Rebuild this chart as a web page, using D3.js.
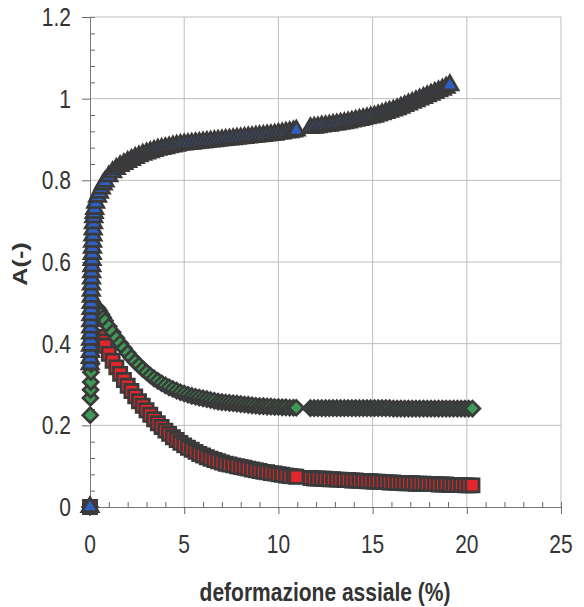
<!DOCTYPE html>
<html>
<head>
<meta charset="utf-8">
<script src="https://cdn.jsdelivr.net/npm/d3@7"></script>
<style>
  html, body { margin: 0; padding: 0; background: #fff; }
  svg { display: block; }
  text { font-family: "Liberation Sans", Arial, sans-serif; fill: #333; }
</style>
</head>
<body>
<svg id="chart" width="584" height="607"></svg>
<script>
// ---- data ----
// axial strain (%): initial near-vertical column, first branch, second branch (after the gap)
const strainC = [0, 0.01, 0.015, 0.02, 0.025, 0.03, 0.035, 0.04, 0.045, 0.05, 0.055, 0.06, 0.065, 0.07,
  0.075, 0.08, 0.09, 0.1, 0.11, 0.12, 0.13, 0.14, 0.155, 0.17, 0.185, 0.2, 0.225, 0.25];
const strainA = [0.3, 0.4, 0.5, 0.6, 0.7, 0.8, 1.0, 1.2, 1.4, 1.6, 1.8, 2.0, 2.2, 2.4, 2.6, 2.8, 3.0, 3.2,
  3.4, 3.6, 3.8, 4.0, 4.2, 4.4, 4.6, 4.8, 5.0, 5.2, 5.4, 5.6, 5.8, 6.0, 6.2, 6.4, 6.6, 6.8, 7.0, 7.2, 7.4,
  7.6, 7.8, 8.0, 8.2, 8.4, 8.6, 8.8, 9.0, 9.2, 9.4, 9.6, 9.8, 10.0, 10.2, 10.4, 10.6, 10.8, 10.95];
const strainB = [11.7, 11.9, 12.1, 12.3, 12.5, 12.7, 12.9, 13.1, 13.3, 13.5, 13.7, 13.9, 14.1, 14.3, 14.5,
  14.7, 14.9, 15.1, 15.3, 15.5, 15.7, 15.9, 16.1, 16.3, 16.5, 16.7, 16.9, 17.1, 17.3, 17.5, 17.7, 17.9,
  18.1, 18.3, 18.5, 18.7, 18.9, 19.1, 19.3, 19.5, 19.7, 19.9, 20.1, 20.3];

// blue triangles
const blueC = [0, 0.35, 0.365, 0.38, 0.395, 0.41, 0.425, 0.44, 0.455, 0.47, 0.485, 0.50, 0.515, 0.53,
  0.545, 0.56, 0.575, 0.59, 0.605, 0.62, 0.635, 0.65, 0.665, 0.68, 0.695, 0.71, 0.72, 0.73];
const blueA = [0.745, 0.76, 0.77, 0.78, 0.79, 0.797, 0.81, 0.82, 0.828, 0.835, 0.84, 0.845, 0.85, 0.855,
  0.859, 0.863, 0.866, 0.869, 0.872, 0.875, 0.877, 0.879, 0.881, 0.883, 0.885, 0.887, 0.888, 0.889, 0.890,
  0.891, 0.892, 0.893, 0.894, 0.895, 0.896, 0.897, 0.898, 0.899, 0.900, 0.901, 0.902, 0.903, 0.904, 0.905,
  0.906, 0.907, 0.908, 0.909, 0.910, 0.911, 0.912, 0.914, 0.915, 0.917, 0.918, 0.920, 0.922];
const blueB = [0.928, 0.929, 0.930, 0.932, 0.933, 0.934, 0.936, 0.937, 0.939, 0.940, 0.942, 0.944, 0.946,
  0.948, 0.950, 0.952, 0.954, 0.956, 0.959, 0.962, 0.965, 0.968, 0.971, 0.974, 0.978, 0.982, 0.986, 0.990,
  0.994, 0.998, 1.002, 1.006, 1.010, 1.014, 1.018, 1.022, 1.027, 1.033, null, null, null, null, null, null];

// green diamonds
const greenC = [0, 0.225, null, 0.267, null, 0.287, null, 0.306, null, 0.33, null, 0.35, null, 0.37,
  null, 0.39, null, 0.41, null, 0.43, null, 0.45, null, 0.465, null, 0.478, 0.482, 0.486];
const greenA = [0.49, 0.487, 0.48, 0.472, 0.464, 0.456, 0.442, 0.428, 0.414, 0.401, 0.389, 0.377, 0.366,
  0.356, 0.347, 0.338, 0.330, 0.322, 0.315, 0.309, 0.303, 0.298, 0.293, 0.289, 0.285, 0.281, 0.278, 0.275,
  0.272, 0.270, 0.268, 0.266, 0.264, 0.262, 0.260, 0.258, 0.257, 0.256, 0.255, 0.254, 0.253, 0.252, 0.251,
  0.250, 0.249, 0.248, 0.247, 0.247, 0.246, 0.246, 0.245, 0.245, 0.244, 0.244, 0.243, 0.243, 0.243];
const greenB = [0.242, 0.242, 0.242, 0.242, 0.242, 0.242, 0.242, 0.242, 0.242, 0.242, 0.242, 0.242, 0.242,
  0.242, 0.242, 0.242, 0.242, 0.242, 0.242, 0.242, 0.242, 0.242, 0.241, 0.241, 0.241, 0.241, 0.241, 0.241,
  0.241, 0.241, 0.241, 0.241, 0.241, 0.241, 0.241, 0.241, 0.241, 0.241, 0.241, 0.241, 0.241, 0.241, 0.241, 0.241];

// red squares
const redC = [0, null, null, null, null, null, null, null, null, null, null, null, null, null,
  null, null, null, null, null, null, null, null, null, null, null, null, null, null];
const redA = [null, null, null, 0.417, 0.405, 0.395, 0.375, 0.358, 0.342, 0.326, 0.311, 0.297, 0.284,
  0.271, 0.259, 0.248, 0.237, 0.226, 0.215, 0.205, 0.196, 0.187, 0.179, 0.171, 0.164, 0.157, 0.151, 0.145,
  0.140, 0.135, 0.130, 0.126, 0.122, 0.118, 0.115, 0.112, 0.109, 0.106, 0.104, 0.102, 0.100, 0.098, 0.096,
  0.094, 0.092, 0.090, 0.088, 0.086, 0.085, 0.083, 0.082, 0.080, 0.079, 0.077, 0.076, 0.075, 0.074];
const redB = [0.071, 0.070, 0.070, 0.069, 0.069, 0.068, 0.068, 0.067, 0.067, 0.066, 0.066, 0.065, 0.065,
  0.064, 0.064, 0.063, 0.063, 0.062, 0.062, 0.061, 0.061, 0.060, 0.060, 0.059, 0.059, 0.058, 0.058, 0.058,
  0.057, 0.057, 0.057, 0.056, 0.056, 0.056, 0.055, 0.055, 0.055, 0.054, 0.054, 0.054, 0.054, 0.053, 0.053, 0.053];

const xTickValues = [0, 5, 10, 15, 20, 25];
const xTickLabels = ["0", "5", "10", "15", "20", "25"];
const yTickValues = [0, 0.2, 0.4, 0.6, 0.8, 1.0, 1.2];
const yTickLabels = ["0", "0.2", "0.4", "0.6", "0.8", "1", "1.2"];
const xTitle = "deformazione assiale (%)";
const yTitle = "A(-)";

// ---- drawing ----
const svg = d3.select("#chart");
const x = d3.scaleLinear().domain([0, 25]).range([90, 561]);
const y = d3.scaleLinear().domain([0, 1.2]).range([507, 17]);

// grid
const grid = svg.append("g");
grid.selectAll("line.gx").data(xTickValues.slice(1)).join("line")
  .attr("x1", d => x(d)).attr("x2", d => x(d)).attr("y1", y(0)).attr("y2", y(1.2))
  .attr("stroke", "#bdbdbd").attr("stroke-width", 1);
grid.selectAll("line.gy").data(yTickValues.slice(1)).join("line")
  .attr("y1", d => y(d)).attr("y2", d => y(d)).attr("x1", x(0)).attr("x2", x(25))
  .attr("stroke", "#bdbdbd").attr("stroke-width", 1);

// axes (lines + ticks; labels drawn separately)
const xMinor = d3.range(0, 26, 1).filter(v => v % 5 !== 0);
const yMinor = d3.range(0, 31, 1).map(v => v * 0.04).filter((v, i) => i % 5 !== 0);

const xAxisMinor = svg.append("g").attr("transform", `translate(0,${y(0)})`)
  .call(d3.axisTop(x).tickValues(xMinor).tickSize(5).tickFormat(""));
const xAxisMajor = svg.append("g").attr("transform", `translate(0,${y(0)})`)
  .call(d3.axisBottom(x).tickValues(xTickValues).tickSize(7).tickFormat(""));
const yAxisMinor = svg.append("g").attr("transform", `translate(${x(0)},0)`)
  .call(d3.axisRight(y).tickValues(yMinor).tickSize(5).tickFormat(""));
const yAxisMajor = svg.append("g").attr("transform", `translate(${x(0)},0)`)
  .call(d3.axisLeft(y).tickValues(yTickValues).tickSize(8).tickFormat(""));
[xAxisMinor, xAxisMajor, yAxisMinor, yAxisMajor].forEach(g => {
  g.selectAll("path.domain").attr("stroke", "#777").attr("stroke-width", 1);
  g.selectAll(".tick line").attr("stroke", "#666").attr("stroke-width", 1);
});

// tick labels (the scan is slightly stretched vertically)
svg.append("g").selectAll("text").data(yTickValues).join("text")
  .attr("transform", d => `translate(71,${y(d) + 9}) scale(1,1.2)`)
  .attr("text-anchor", "end").attr("font-size", 21)
  .text((d, i) => yTickLabels[i]);
svg.append("g").selectAll("text").data(xTickValues).join("text")
  .attr("transform", d => `translate(${x(d)},553) scale(1,1.2)`)
  .attr("text-anchor", "middle").attr("font-size", 21)
  .text((d, i) => xTickLabels[i]);

svg.append("text")
  .attr("transform", "translate(325,601) scale(1,1.2)")
  .attr("text-anchor", "middle").attr("font-size", 21).attr("font-weight", "bold")
  .text(xTitle);
svg.append("text")
  .attr("transform", "translate(27,264) rotate(-90) scale(1.2,1)")
  .attr("text-anchor", "middle").attr("font-size", 21).attr("font-weight", "bold")
  .text(yTitle);

// series
function pts(groups) {
  const out = [];
  groups.forEach(([s, v]) => s.forEach((sv, i) => { if (v[i] != null) out.push([sv, v[i]]); }));
  return out;
}
const series = [
  { data: pts([[strainC, redC], [strainA, redA], [strainB, redB]]), fill: "#e3262b",
    shape: d3.symbolSquare, size: 175, rot: 0 },
  { data: pts([[strainC, greenC], [strainA, greenA], [strainB, greenB]]), fill: "#3f9a55",
    shape: d3.symbolSquare, size: 110, rot: 45 },
  { data: pts([[strainC, blueC], [strainA, blueA], [strainB, blueB]]), fill: "#3060c0",
    shape: d3.symbolTriangle, size: 115, rot: 0 }
];
series.forEach(s => {
  const sym = d3.symbol().type(s.shape).size(s.size);
  svg.append("g").selectAll("path").data(s.data).join("path")
    .attr("d", sym)
    .attr("transform", d => `translate(${x(d[0])},${y(d[1])}) rotate(${s.rot})`)
    .attr("fill", s.fill)
    .attr("stroke", "#3a3a3a")
    .attr("stroke-width", 2.7)
    .attr("stroke-linejoin", "miter");
});
</script>
</body>
</html>
